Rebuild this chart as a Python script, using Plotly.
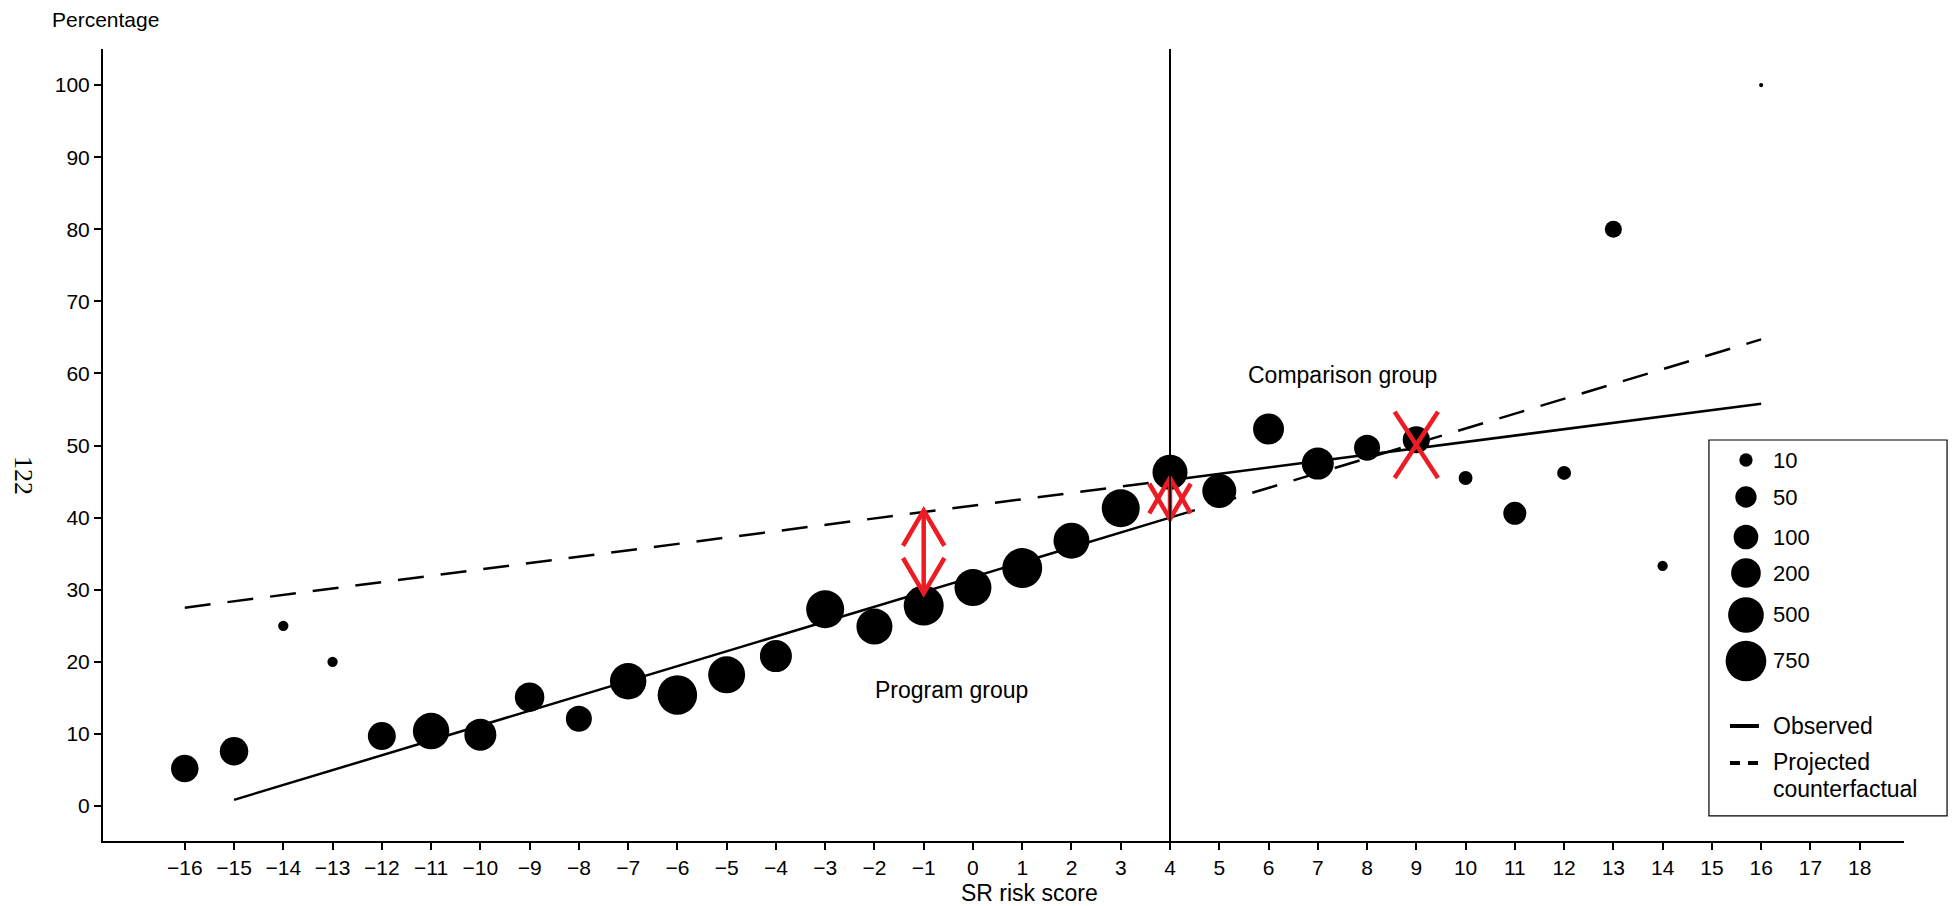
import numpy as np
import plotly.graph_objects as go

# ---------------- data ----------------
scores = [-16, -15, -14, -13, -12, -11, -10, -9, -8, -7, -6, -5, -4, -3, -2, -1,
          0, 1, 2, 3, 4, 5, 6, 7, 8, 9, 10, 11, 12, 13, 14, 16]
percentage = [5.2, 7.6, 25.0, 20.0, 9.7, 10.4, 9.9, 15.1, 12.1, 17.3, 15.4, 18.2, 20.8, 27.3, 24.9, 27.8,
              30.3, 33.0, 36.8, 41.3, 46.3, 43.7, 52.3, 47.5, 49.7, 50.8, 45.5, 40.6, 46.2, 80.0, 33.3, 100.0]
n_people = [152, 173, 6, 6, 162, 536, 299, 195, 123, 532, 685, 560, 300, 609, 514, 712,
            560, 712, 514, 609, 458, 401, 253, 299, 123, 145, 12, 73, 12, 25, 6, 1]

# fitted lines (intercept, slope)
program_fit = (31.76, 2.06)
comparison_fit = (41.66, 0.884)
cutoff = 4
program_range = (-15, 16)
comparison_range = (-16, 16)

legend_n = [10, 50, 100, 200, 500, 750]
legend_labels = ["10", "50", "100", "200", "500", "750"]
x_ticks = list(range(-16, 19))
y_ticks = list(range(0, 101, 10))

# size scale (diameter in px keyed to the legend)
SIZE_D = [13.3, 21.3, 24.7, 29.7, 35.7, 40.7]
def size_px(n):
    return np.interp(np.sqrt(np.asarray(n, float)),
                     [0.0] + list(np.sqrt(legend_n)), [0.0] + SIZE_D)

RED = "#ED1C24"
FONT = "Liberation Sans, Arial, sans-serif"

def fit(f, x0, x1):
    xs = np.array([x0, x1], float)
    return xs, f[0] + f[1] * xs

fig = go.Figure()

# regression lines
DASH = "26px,17px"
xs, ys = fit(program_fit, program_range[0], cutoff)
fig.add_trace(go.Scatter(x=xs, y=ys, mode="lines", line=dict(color="black", width=2.5)))
xs, ys = fit(program_fit, cutoff, program_range[1])
fig.add_trace(go.Scatter(x=xs, y=ys, mode="lines", line=dict(color="black", width=2.5, dash=DASH)))
xs, ys = fit(comparison_fit, cutoff, comparison_range[1])
fig.add_trace(go.Scatter(x=xs, y=ys, mode="lines", line=dict(color="black", width=2.5)))
xs, ys = fit(comparison_fit, comparison_range[0], cutoff)
fig.add_trace(go.Scatter(x=xs, y=ys, mode="lines", line=dict(color="black", width=2.5, dash=DASH)))

# points
fig.add_trace(go.Scatter(x=scores, y=percentage, mode="markers",
                         marker=dict(color="black", opacity=1, size=size_px(n_people),
                                     sizemode="diameter", line=dict(width=0))))

# red double arrows and crosses
HW, HH = 0.42, 4.9
def double_arrow(x, ylo, yhi):
    px = [x, x, None, x - HW, x, x + HW, None, x - HW, x, x + HW]
    py = [ylo, yhi, None, yhi - HH, yhi, yhi - HH, None, ylo + HH, ylo, ylo + HH]
    fig.add_trace(go.Scatter(x=px, y=py, mode="lines", line=dict(color=RED, width=4.5)))

double_arrow(-1, 29.5, 41.0)
double_arrow(cutoff, 39.8, 45.5)

cx, cy, cw, ch = 9, 50.1, 0.44, 4.6
fig.add_trace(go.Scatter(x=[cx - cw, cx + cw, None, cx - cw, cx + cw],
                         y=[cy + ch, cy - ch, None, cy - ch, cy + ch],
                         mode="lines", line=dict(color=RED, width=4.5)))

# ---------------- legend on overlay axes (pixel coords) ----------------
leg_y = [460, 497, 537, 573, 615, 661]
fig.add_trace(go.Scatter(x=[1746] * len(legend_n), y=leg_y, mode="markers",
                         xaxis="x2", yaxis="y2",
                         marker=dict(color="black", opacity=1, size=size_px(legend_n),
                                     sizemode="diameter", line=dict(width=0))))
fig.add_trace(go.Scatter(x=[1730, 1759], y=[726, 726], mode="lines", xaxis="x2", yaxis="y2",
                         line=dict(color="black", width=4)))
fig.add_trace(go.Scatter(x=[1730, 1759], y=[763, 763], mode="lines", xaxis="x2", yaxis="y2",
                         line=dict(color="black", width=4, dash="10px,8px")))

annots = []
for lab, yy in zip(legend_labels, leg_y):
    annots.append(dict(x=1771, y=yy, xref="x2", yref="y2", text=lab, showarrow=False,
                       xanchor="left", yanchor="middle", font=dict(family=FONT, size=22, color="black")))
for lab, yy in [("Observed", 726), ("Projected", 762), ("counterfactual", 789)]:
    annots.append(dict(x=1771, y=yy, xref="x2", yref="y2", text=lab, showarrow=False,
                       xanchor="left", yanchor="middle", font=dict(family=FONT, size=23, color="black")))

# text labels
annots += [
    dict(x=-0.43, y=16.1, xref="x", yref="y", text="Program group", showarrow=False,
         font=dict(family=FONT, size=23, color="black")),
    dict(x=7.5, y=59.8, xref="x", yref="y", text="Comparison group", showarrow=False,
         font=dict(family=FONT, size=23, color="black")),
    dict(x=-0.0294, y=1.037, xref="paper", yref="paper", text="Percentage", showarrow=False,
         xanchor="left", yanchor="middle", font=dict(family=FONT, size=21, color="black")),
    dict(x=0.5147, y=-0.0657, xref="paper", yref="paper", text="SR risk score", showarrow=False,
         xanchor="center", yanchor="middle", font=dict(family=FONT, size=23, color="black")),
    dict(x=-0.0438, y=0.462, xref="paper", yref="paper", text="122", showarrow=False, textangle=90,
         xanchor="center", yanchor="middle",
         font=dict(family="Liberation Serif, Times New Roman, serif", size=26, color="black")),
]

shapes = [
    dict(type="line", xref="x", yref="paper", x0=cutoff, x1=cutoff, y0=0, y1=1,
         line=dict(color="black", width=2)),
    dict(type="rect", xref="paper", yref="paper", x0=0.8917, x1=1.0239, y0=0.0316, y1=0.5063,
         line=dict(color="black", width=1.2), fillcolor="rgba(0,0,0,0)"),
]

fig.update_layout(
    width=1951, height=898,
    margin=dict(l=95, r=55, t=41, b=65),
    paper_bgcolor="white", plot_bgcolor="white",
    showlegend=False,
    annotations=annots,
    shapes=shapes,
    xaxis=dict(range=[-17.66, 18.9], tickvals=x_ticks,
               showgrid=False, zeroline=False, showline=True, linecolor="black", linewidth=2,
               ticks="outside", ticklen=7, tickwidth=1.5, tickcolor="black",
               tickfont=dict(family=FONT, size=21, color="black")),
    yaxis=dict(range=[-4.85, 105.0], tickvals=y_ticks,
               showgrid=False, zeroline=False, showline=True, linecolor="black", linewidth=2,
               ticks="outside", ticklen=7, tickwidth=1.5, tickcolor="black",
               tickfont=dict(family=FONT, size=21, color="black")),
    xaxis2=dict(domain=[0.8917, 1.0], range=[1709, 1904], visible=False, fixedrange=True,
                anchor="y2"),
    yaxis2=dict(domain=[0.0316, 0.5063], range=[816, 440], visible=False, fixedrange=True,
                anchor="x2"),
)

fig.write_html("out.html")
